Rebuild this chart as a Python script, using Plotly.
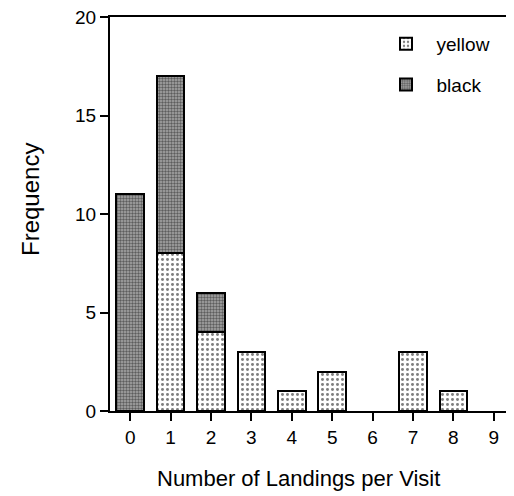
import plotly.graph_objects as go

categories = [0, 1, 2, 3, 4, 5, 6, 7, 8, 9]
yellow = [0, 8, 4, 3, 1, 2, 0, 3, 1, 0]
black = [11, 9, 2, 0, 0, 0, 0, 0, 0, 0]
y_ticks = [0, 5, 10, 15, 20]

font = "Liberation Sans, Arial, sans-serif"


def nz(vals):
    return [v if v else None for v in vals]


fig = go.Figure()
fig.add_trace(go.Bar(
    x=categories, y=nz(yellow), name="\u00a0\u00a0yellow", width=0.68,
    legendgroup="y",
    marker=dict(color="white", line=dict(color="black", width=2),
                pattern=dict(shape=".", fgcolor="black", bgcolor="white",
                             size=5, solidity=0.28)),
))
fig.add_trace(go.Bar(
    x=categories, y=nz(black), name="\u00a0\u00a0black", width=0.68,
    legendgroup="b",
    marker=dict(color="#666666", line=dict(color="black", width=2),
                pattern=dict(shape=".", fgcolor="#111111", bgcolor="#a8a8a8",
                             size=3, solidity=0.5)),
))

# page body has an 8px default margin; compensate so the chart fills the window
fig.update_layout(
    barmode="stack",
    width=506, height=488,
    margin=dict(l=102, r=0, t=9, b=85),
    plot_bgcolor="white", paper_bgcolor="white",
    font=dict(family=font, size=19, color="black"),
    showlegend=True,
    legend=dict(x=(386 - 110) / 404, y=(411 - 25) / 394, xanchor="left", yanchor="top",
                traceorder="grouped", tracegroupgap=13,
                font=dict(size=19), bgcolor="rgba(0,0,0,0)"),
    annotations=[
        dict(text="Number of Landings per Visit", xref="paper", yref="paper",
             x=(298 - 110) / 404, y=(411 - 478) / 394, xanchor="center", yanchor="middle",
             showarrow=False, font=dict(size=22)),
        dict(text="Frequency", xref="paper", yref="paper", textangle=-90,
             x=(30 - 110) / 404, y=(411 - 200) / 394, xanchor="center", yanchor="middle",
             showarrow=False, font=dict(size=24)),
    ],
)
fig.update_xaxes(
    range=[-0.5, 9.5], tickmode="array", tickvals=categories,
    ticktext=[str(c) for c in categories],
    showline=True, linecolor="black", linewidth=2, mirror=True,
    ticks="outside", ticklen=8, tickwidth=2, tickcolor="black",
    showgrid=False, zeroline=False, automargin=False,
    tickfont=dict(size=19), ticklabeloverflow="allow",
)
fig.update_yaxes(
    range=[0, 20], tickmode="array", tickvals=y_ticks,
    showline=True, linecolor="black", linewidth=2,
    ticks="outside", ticklen=8, tickwidth=2, tickcolor="black",
    showgrid=False, zeroline=False, automargin=False,
    tickfont=dict(size=19), ticklabeloverflow="allow",
)

fig.write_html("out.html")
